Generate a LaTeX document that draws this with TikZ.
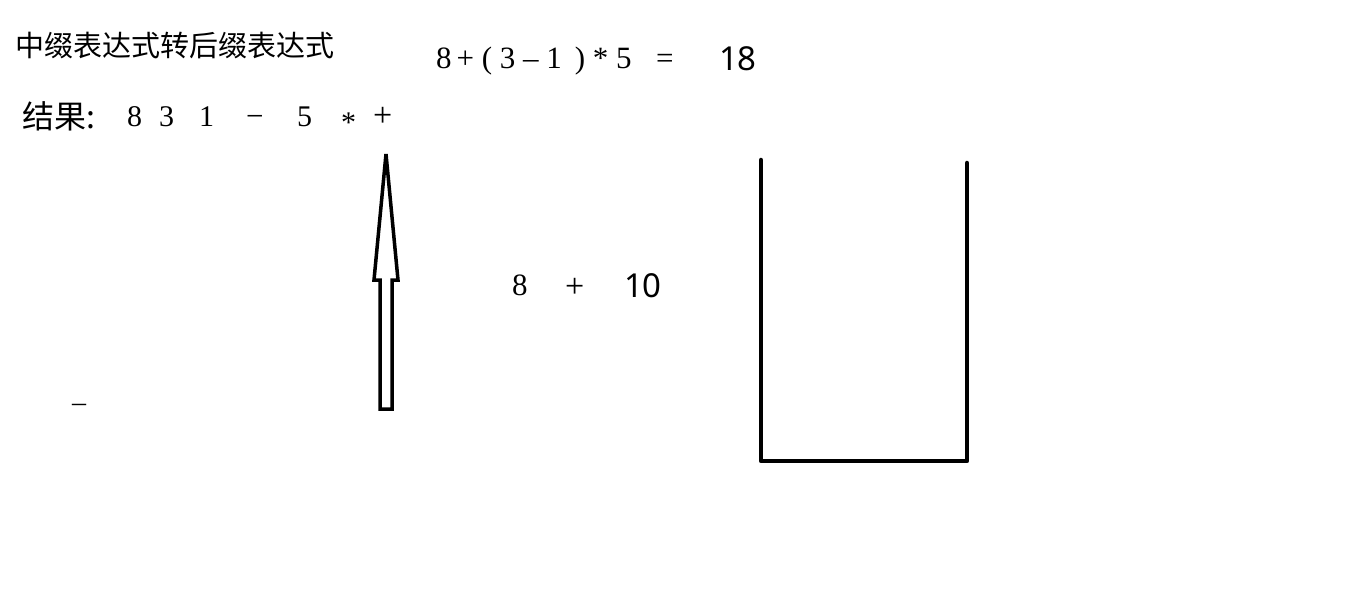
\documentclass[tikz,border=0pt]{standalone}
\usepackage{fontspec}
\setmainfont{Liberation Serif}
\newfontfamily\cjk{Noto Sans CJK SC}
\newfontfamily\numsans{Noto Sans}
\begin{document}
\begin{tikzpicture}[x=1pt,y=-1pt,
  every node/.style={inner sep=0pt,outer sep=0pt,anchor=base west},
  cjktext/.style={font=\cjk\fontsize{29}{31}\selectfont},
  sertext/.style={font=\fontsize{30}{32}\selectfont},
  exprtext/.style={font=\fontsize{31}{33}\selectfont},
  plustext/.style={font=\fontsize{34}{36}\selectfont},
  sanstext/.style={font=\numsans\fontsize{33}{35}\selectfont},
  thick line/.style={line width=4.5pt,line cap=round,line join=round}]
\useasboundingbox[fill=white] (0,0) rectangle (1360,604);
\node[cjktext] (title) at (15,57) {中缀表达式转后缀表达式};
\node[cjktext,font=\cjk\fontsize{32}{34}\selectfont] (res) at (23,129) {结果:};
\node[sertext] (r8) at (127,127) {8};
\node[sertext] (r3) at (159,127) {3};
\node[sertext] (r1) at (199,127) {1};
\node[sertext,font=\fontsize{31}{33}\selectfont] (rminus) at (246,127) {−};
\node[sertext] (r5) at (297,127) {5};
\node[sertext] (rstar) at (341,133) {*};
\node[plustext] (rplus) at (373,127) {+};
\node[exprtext] (expr) at (436,69) {8\,+ ( 3 – 1 \,) * 5};
\node[exprtext] (eq) at (656,69) {=};
\node[sanstext] (res18) at (719,71) {18};
\node[exprtext] (m8) at (512,295) {8};
\node[plustext] (mplus) at (565,297) {+};
\node[sanstext] (m10) at (624,297) {10};
\node[sertext,font=\fontsize{28}{30}\selectfont] (dash) at (72,411) {–};
% hollow arrow
\coordinate (tip) at (386,154);
\draw[line width=3.5pt,line join=miter]
  (tip) -- (398,280) -- (392,280) -- (392,409) -- (380,409) -- (380,280) -- (374,280) -- cycle;
% container
\coordinate (bl) at (761,461);
\coordinate (br) at (967,461);
\coordinate (tl) at (761,160);
\coordinate (tr) at (967,163);
\draw[thick line] (tl) -- (bl) -- (br) -- (tr);
\end{tikzpicture}
\end{document}
